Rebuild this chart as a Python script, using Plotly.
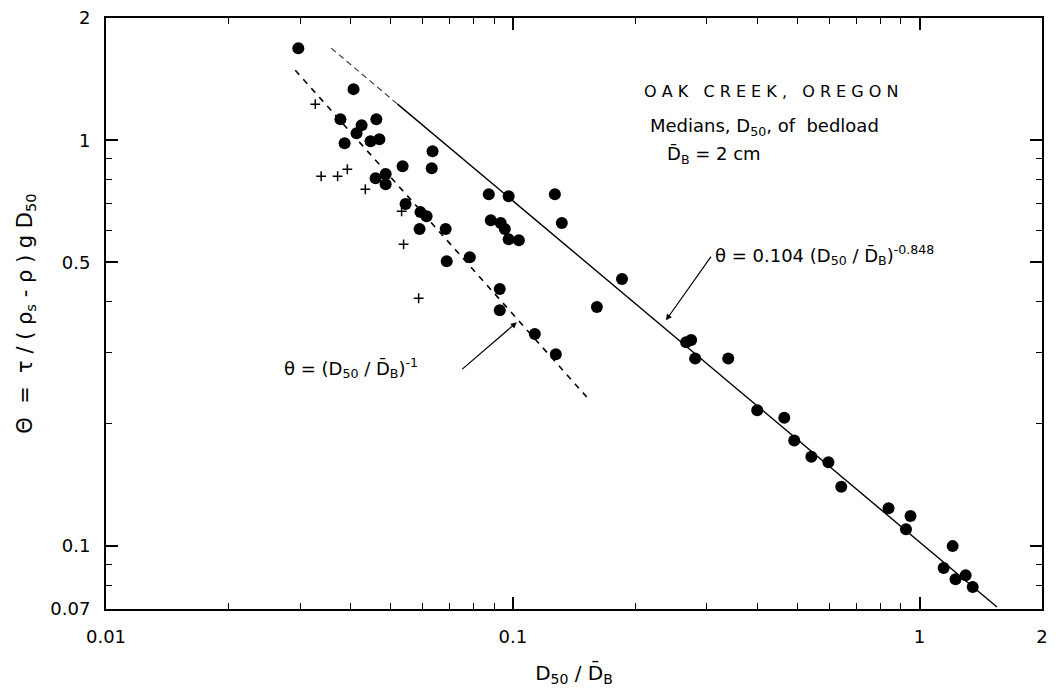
import math
import plotly.graph_objects as go

# ---- data (D50/DB, theta) ----
dots_x = [0.0297, 0.0406, 0.0377, 0.0462, 0.0425, 0.0413, 0.0386, 0.0447, 0.0470,
          0.0635, 0.0632, 0.0536, 0.0460, 0.0487, 0.0487, 0.0545, 0.0593, 0.0614,
          0.0590, 0.0684, 0.0688, 0.0784, 0.0873, 0.0977, 0.1269, 0.0883, 0.0934,
          0.0956, 0.0977, 0.1035, 0.1320, 0.0929, 0.0929, 0.1133, 0.1276, 0.161,
          0.1856, 0.2668, 0.2745, 0.2808, 0.3386, 0.399, 0.465, 0.492, 0.542,
          0.597, 0.642, 0.839, 0.950, 0.926, 1.206, 1.146, 1.226, 1.298, 1.351]
dots_y = [1.685, 1.336, 1.126, 1.126, 1.089, 1.040, 0.983, 0.994, 1.006,
          0.939, 0.853, 0.863, 0.806, 0.825, 0.779, 0.696, 0.665, 0.650,
          0.604, 0.604, 0.503, 0.515, 0.736, 0.728, 0.736, 0.635, 0.625,
          0.604, 0.570, 0.567, 0.625, 0.430, 0.381, 0.333, 0.297, 0.388,
          0.455, 0.318, 0.322, 0.290, 0.290, 0.216, 0.207, 0.182, 0.166,
          0.161, 0.140, 0.124, 0.1186, 0.110, 0.100, 0.0883, 0.0829, 0.0848, 0.0793]

cross_x = [0.0327, 0.0338, 0.0371, 0.0392, 0.0434, 0.0539, 0.0587, 0.0533]
cross_y = [1.227, 0.815, 0.815, 0.848, 0.757, 0.554, 0.408, 0.668]

# fitted line theta = 0.104 (D50/DB)^-0.848 (end points)
fit_dash_x = [0.0358, 0.052]
fit_dash_y = [1.685, 1.229]
fit_x = [0.052, 1.55]
fit_y = [1.229, 0.0708]

# line theta = (D50/DB)^-1 (end points)
inv_x = [0.0292, 0.152]
inv_y = [1.487, 0.233]

x_tickvals = [0.01, 0.1, 1, 2]
x_ticktext = ["0.01", "0.1", "1", "2"]
x_minor = [0.02, 0.03, 0.04, 0.05, 0.06, 0.07, 0.08, 0.09,
           0.2, 0.3, 0.4, 0.5, 0.6, 0.7, 0.8, 0.9]
y_tickvals = [0.07, 0.1, 0.5, 1, 2]
y_ticktext = ["0.07", "0.1", "0.5", "1", "2"]
y_minor = [0.08, 0.09, 0.2, 0.3, 0.4, 0.6, 0.7, 0.8, 0.9]

FONT = "DejaVu Sans"
DB = "D\u0304"

fig = go.Figure()
fig.add_trace(go.Scatter(x=inv_x, y=inv_y, mode="lines",
                         line=dict(color="black", width=1.6, dash="6px,6px"),
                         hoverinfo="skip"))
fig.add_trace(go.Scatter(x=fit_dash_x, y=fit_dash_y, mode="lines",
                         line=dict(color="#333333", width=1.1, dash="6px,4px"),
                         hoverinfo="skip"))
fig.add_trace(go.Scatter(x=fit_x, y=fit_y, mode="lines",
                         line=dict(color="black", width=1.4),
                         hoverinfo="skip"))
fig.add_trace(go.Scatter(x=dots_x, y=dots_y, mode="markers",
                         marker=dict(symbol="circle", size=12, color="black")))
fig.add_trace(go.Scatter(x=cross_x, y=cross_y, mode="markers",
                         marker=dict(symbol="cross-thin", size=7,
                                     line=dict(color="black", width=1.5))))

axis_common = dict(
    type="log", showgrid=False, zeroline=False, automargin=False,
    showline=True, linecolor="black", linewidth=2, mirror="allticks",
    ticks="inside", ticklen=12, tickwidth=1.5, tickcolor="black",
    tickfont=dict(family=FONT, size=18, color="black"),
    ticklabelstandoff=10, ticklabeloverflow="allow",
)

fig.update_xaxes(**axis_common,
                 range=[math.log10(0.01), math.log10(2)],
                 tickvals=x_tickvals, ticktext=x_ticktext,
                 minor=dict(tickvals=x_minor, ticks="inside", ticklen=6,
                            tickwidth=1.2, tickcolor="black"),
                 title=dict(text="D<sub>50</sub> / " + DB + "<sub>B</sub>",
                            font=dict(family=FONT, size=20, color="black"),
                            standoff=20))
fig.update_yaxes(**axis_common,
                 range=[math.log10(0.07), math.log10(2)],
                 tickvals=y_tickvals, ticktext=y_ticktext,
                 minor=dict(tickvals=y_minor, ticks="inside", ticklen=6,
                            tickwidth=1.2, tickcolor="black"),
                 title=dict(text="\u0398  =  \u03c4 / ( \u03c1<sub>s</sub> - \u03c1 ) g D<sub>50</sub>",
                            font=dict(family=FONT, size=21, color="black"),
                            standoff=12))

txt = dict(family=FONT, size=18, color="black")
annotations = [
    dict(xref="paper", yref="paper", x=0.5726, y=0.875, xanchor="left", yanchor="middle",
         text="O A K   C R E E K ,   O R E G O N", showarrow=False,
         font=dict(family=FONT, size=16, color="black")),
    dict(xref="paper", yref="paper", x=0.579, y=0.8156, xanchor="left", yanchor="middle",
         text="Medians, D<sub>50</sub>, of  bedload", showarrow=False, font=txt),
    dict(xref="paper", yref="paper", x=0.597, y=0.768, xanchor="left", yanchor="middle",
         text=DB + "<sub>B</sub> = 2 cm", showarrow=False, font=txt),
    dict(xref="paper", yref="paper", x=0.6485, y=0.599, xanchor="left", yanchor="middle",
         text="\u03b8 = 0.104 (D<sub>50</sub> / " + DB + "<sub>B</sub>)<sup>-0.848</sup>",
         showarrow=False, font=txt),
    dict(xref="paper", yref="paper", x=0.188, y=0.408, xanchor="left", yanchor="middle",
         text="\u03b8 = (D<sub>50</sub> / " + DB + "<sub>B</sub>)<sup>-1</sup>",
         showarrow=False, font=txt),
    # arrows
    dict(xref="x", yref="y", axref="x", ayref="y",
         x=math.log10(0.238), y=math.log10(0.360),
         ax=math.log10(0.309), ay=math.log10(0.521),
         text="", showarrow=True, arrowhead=2, arrowsize=1, arrowwidth=1.2,
         arrowcolor="black"),
    dict(xref="x", yref="y", axref="x", ayref="y",
         x=math.log10(0.1023), y=math.log10(0.356),
         ax=math.log10(0.0745), ay=math.log10(0.271),
         text="", showarrow=True, arrowhead=2, arrowsize=1, arrowwidth=1.2,
         arrowcolor="black"),
]

# page body adds an 8px offset; margins compensate so the plot area matches the reference
fig.update_layout(
    width=1062, height=698,
    margin=dict(l=98, r=28, t=10, b=97),
    paper_bgcolor="white", plot_bgcolor="white",
    showlegend=False,
    annotations=annotations,
    font=dict(family=FONT, color="black"),
)

fig.write_html("out.html")
